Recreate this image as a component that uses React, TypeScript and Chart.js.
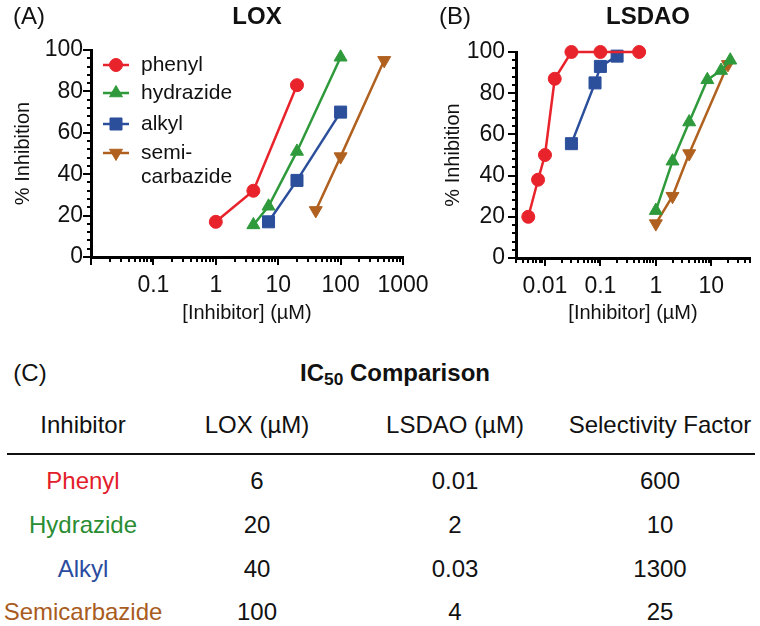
import React, { useEffect, useRef } from 'react';
import { Chart, registerables } from 'chart.js';
import { drawPoint } from 'chart.js/helpers';

Chart.register(...registerables);

const FONT = '"Liberation Sans", Arial, Helvetica, sans-serif';

// ---------- Data: panel A (LOX) ----------
const loxPhenylX = [1, 4, 20];
const loxPhenylY = [17, 32, 83];
const loxHydrazideX = [4, 7, 20, 100];
const loxHydrazideY = [15.5, 24.5, 51, 96.5];
const loxAlkylX = [7, 20, 100];
const loxAlkylY = [17, 37, 70];
const loxSemiX = [40, 100, 500];
const loxSemiY = [22.5, 48.5, 95];

// ---------- Data: panel B (LSDAO) ----------
const lsdaoPhenylX = [0.005, 0.0075, 0.01, 0.015, 0.03, 0.1, 0.5];
const lsdaoPhenylY = [20, 38, 50, 87, 100, 100, 100];
const lsdaoHydrazideX = [1, 2, 4, 8.5, 15, 22];
const lsdaoHydrazideY = [23, 47, 66, 86.5, 91, 96];
const lsdaoAlkylX = [0.03, 0.08, 0.1, 0.2];
const lsdaoAlkylY = [55.5, 85, 93, 98];
const lsdaoSemiX = [1, 2, 4, 20];
const lsdaoSemiY = [16.7, 30, 50.7, 94];

// ---------- Series meta ----------
const seriesLegend = ['phenyl', 'hydrazide', 'alkyl', 'semi-\ncarbazide'];
const seriesColors = ['#e8232b', '#2f9a3b', '#2c4f9c', '#b0611f'];
const seriesStyles = ['circle', 'triangle', 'rect', 'triangle'];
const seriesRotation = [0, 0, 0, 180];
const seriesRadius = [6.5, 7.5, 8.5, 7.5];

// ---------- Axis ----------
const yMin = 0;
const yMax = 100;
const yLabelStep = 20;
const yMinorStep = 4;
const loxXMin = 0.01;
const loxXMax = 1000;
const loxFirstLabel = 0.1;
const lsdaoXMin = 0.003;
const lsdaoXMax = 50;
const lsdaoFirstLabel = 0.01;

// ---------- Table ----------
const tableTitle = 'IC';
const tableTitleSub = '50';
const tableTitleRest = ' Comparison';
const tableHeaders = ['Inhibitor', 'LOX (\u00b5M)', 'LSDAO (\u00b5M)', 'Selectivity Factor'];
const tableInhibitors = ['Phenyl', 'Hydrazide', 'Alkyl', 'Semicarbazide'];
const tableLox = ['6', '20', '40', '100'];
const tableLsdao = ['0.01', '2', '0.03', '4'];
const tableSelectivity = ['600', '10', '1300', '25'];
const tableInhibitorColors = ['#e3202a', '#2a8d33', '#2b4c9e', '#a85c1e'];

const zip = (xs: number[], ys: number[]) => xs.map((x, i) => ({ x, y: ys[i] }));

function makeDatasets(sets: { x: number[]; y: number[] }[]) {
  return sets.map((s, i) => ({
    label: seriesLegend[i].replace('\n', ''),
    data: zip(s.x, s.y),
    borderColor: seriesColors[i],
    backgroundColor: seriesColors[i],
    pointBackgroundColor: seriesColors[i],
    pointBorderColor: seriesColors[i],
    pointStyle: seriesStyles[i],
    pointRotation: seriesRotation[i],
    pointRadius: seriesRadius[i],
    pointBorderWidth: 1,
    borderWidth: 2.5,
    tension: 0,
    clip: false as any,
  }));
}

function isPow10(v: number) {
  const lg = Math.log10(v);
  return Math.abs(lg - Math.round(lg)) < 1e-6;
}

const tickMarksPlugin = {
  id: 'tickMarks',
  afterDraw(chart: any) {
    const { ctx, chartArea } = chart;
    const xs = chart.scales.x;
    const ys = chart.scales.y;
    ctx.save();
    ctx.strokeStyle = '#000';
    ctx.lineWidth = 2;
    xs.ticks.forEach((t: any) => {
      const px = Math.round(xs.getPixelForValue(t.value));
      const len = isPow10(t.value) ? 8 : 5;
      ctx.beginPath();
      ctx.moveTo(px, chartArea.bottom);
      ctx.lineTo(px, chartArea.bottom + len);
      ctx.stroke();
    });
    ys.ticks.forEach((t: any) => {
      const py = Math.round(ys.getPixelForValue(t.value));
      const len = t.value % yLabelStep === 0 ? 8 : 4;
      ctx.beginPath();
      ctx.moveTo(chartArea.left, py);
      ctx.lineTo(chartArea.left - len, py);
      ctx.stroke();
    });
    ctx.restore();
  },
};

const insetLegendPlugin = {
  id: 'insetLegend',
  afterDatasetsDraw(chart: any, _args: any, opts: any) {
    if (!opts || !opts.show) return;
    const { ctx, chartArea } = chart;
    const rowOffsets = [15, 43, 74, 103];
    const lineX0 = chartArea.left + 12;
    const lineX1 = chartArea.left + 38;
    const textX = chartArea.left + 50;
    ctx.save();
    ctx.font = `21px ${FONT}`;
    ctx.textBaseline = 'middle';
    ctx.textAlign = 'left';
    seriesLegend.forEach((lab, i) => {
      const y = chartArea.top + rowOffsets[i];
      ctx.strokeStyle = seriesColors[i];
      ctx.fillStyle = seriesColors[i];
      ctx.lineWidth = 2.5;
      ctx.beginPath();
      ctx.moveTo(lineX0, y);
      ctx.lineTo(lineX1, y);
      ctx.stroke();
      ctx.lineWidth = 1;
      drawPoint(ctx, { pointStyle: seriesStyles[i], rotation: seriesRotation[i], radius: seriesRadius[i], borderWidth: 1 } as any, (lineX0 + lineX1) / 2, y);
      ctx.fillStyle = '#111';
      lab.split('\n').forEach((line, k) => ctx.fillText(line, textX, y + k * 24));
    });
    ctx.restore();
  },
};

function logLabel(firstLabel: number) {
  return (v: any) => {
    const n = Number(v);
    if (!isPow10(n) || n < firstLabel * 0.999) return '';
    const e = Math.round(Math.log10(n));
    return e < 0 ? Math.pow(10, e).toFixed(-e) : String(Math.pow(10, e));
  };
}

function makeConfig(opts: {
  sets: { x: number[]; y: number[] }[];
  xMin: number;
  xMax: number;
  firstLabel: number;
  yWidth: number;
  xHeight: number;
  padding: any;
  yTitlePad: number;
  yTickPad: number;
  legend: boolean;
}): any {
  return {
    type: 'line',
    data: { datasets: makeDatasets(opts.sets) },
    plugins: [tickMarksPlugin, insetLegendPlugin],
    options: {
      responsive: false,
      animation: false,
      layout: { padding: opts.padding },
      plugins: {
        legend: { display: false },
        tooltip: { enabled: false },
        insetLegend: { show: opts.legend },
      },
      scales: {
        x: {
          type: 'logarithmic',
          position: 'bottom',
          min: opts.xMin,
          max: opts.xMax,
          afterBuildTicks: (scale: any) => {
            scale.ticks = scale.ticks.filter((t: any) => {
              const m = t.value / Math.pow(10, Math.floor(Math.log10(t.value) + 1e-9));
              return Math.abs(m - Math.round(m)) < 1e-6;
            });
          },
          afterFit: (scale: any) => {
            scale.height = opts.xHeight;
          },
          grid: { display: false, drawTicks: true, tickLength: 8 },
          border: { display: true, color: '#000', width: 3 },
          ticks: {
            autoSkip: false,
            maxRotation: 0,
            minRotation: 0,
            padding: 7,
            color: '#111',
            font: { family: FONT, size: 23 },
            callback: logLabel(opts.firstLabel),
          },
          title: {
            display: true,
            text: '[Inhibitor] (\u00b5M)',
            color: '#111',
            font: { family: FONT, size: 20 },
            padding: { top: 0, bottom: 5 },
          },
        },
        y: {
          type: 'linear',
          min: yMin,
          max: yMax,
          afterFit: (scale: any) => {
            scale.width = opts.yWidth;
          },
          grid: { display: false, drawTicks: true, tickLength: 8 },
          border: { display: true, color: '#000', width: 3 },
          ticks: {
            stepSize: yMinorStep,
            autoSkip: false,
            padding: opts.yTickPad,
            color: '#111',
            font: { family: FONT, size: 23 },
            callback: (v: any) => (Number(v) % yLabelStep === 0 ? String(v) : ''),
          },
          title: {
            display: true,
            text: '% Inhibition',
            color: '#111',
            font: { family: FONT, size: 20 },
            padding: { top: opts.yTitlePad, bottom: 0 },
          },
        },
      },
    },
  };
}

const Label = ({ x, y, children, style }: any) => (
  <div
    style={{
      position: 'absolute',
      left: x,
      top: y,
      transform: 'translate(-50%, -50%)',
      whiteSpace: 'nowrap',
      lineHeight: 1,
      ...style,
    }}
  >
    {children}
  </div>
);

export default function App() {
  const refA = useRef<HTMLCanvasElement>(null);
  const refB = useRef<HTMLCanvasElement>(null);

  useEffect(() => {
    const a = new Chart(
      refA.current as HTMLCanvasElement,
      makeConfig({
        sets: [
          { x: loxPhenylX, y: loxPhenylY },
          { x: loxHydrazideX, y: loxHydrazideY },
          { x: loxAlkylX, y: loxAlkylY },
          { x: loxSemiX, y: loxSemiY },
        ],
        xMin: loxXMin,
        xMax: loxXMax,
        firstLabel: loxFirstLabel,
        yWidth: 91,
        xHeight: 73,
        padding: { top: 50, right: 37, left: 0, bottom: 0 },
        yTitlePad: 11,
        yTickPad: 0,
        legend: true,
      })
    );
    const b = new Chart(
      refB.current as HTMLCanvasElement,
      makeConfig({
        sets: [
          { x: lsdaoPhenylX, y: lsdaoPhenylY },
          { x: lsdaoHydrazideX, y: lsdaoHydrazideY },
          { x: lsdaoAlkylX, y: lsdaoAlkylY },
          { x: lsdaoSemiX, y: lsdaoSemiY },
        ],
        xMin: lsdaoXMin,
        xMax: lsdaoXMax,
        firstLabel: lsdaoFirstLabel,
        yWidth: 96,
        xHeight: 72,
        padding: { top: 52, right: 10, left: 0, bottom: 0 },
        yTitlePad: 21,
        yTickPad: 3,
        legend: false,
      })
    );
    return () => {
      a.destroy();
      b.destroy();
    };
  }, []);

  const colX = [83, 257, 455, 660];
  const rowY = [481, 525, 569, 612];
  const cols = [tableInhibitors, tableLox, tableLsdao, tableSelectivity];

  return (
    <div
      style={{
        position: 'absolute',
        left: 0,
        top: 0,
        width: 760,
        height: 626,
        background: '#fff',
        overflow: 'hidden',
        fontFamily: FONT,
        color: '#111',
      }}
    >
      <canvas ref={refA} width={440} height={330} style={{ position: 'absolute', left: 0, top: 0, width: 440, height: 330 }} />
      <canvas ref={refB} width={340} height={330} style={{ position: 'absolute', left: 420, top: 0, width: 340, height: 330 }} />

      <Label x={29} y={16} style={{ fontSize: 24 }}>(A)</Label>
      <Label x={257} y={16} style={{ fontSize: 24, fontWeight: 'bold' }}>LOX</Label>
      <Label x={455} y={16} style={{ fontSize: 24 }}>(B)</Label>
      <Label x={648} y={16} style={{ fontSize: 24, fontWeight: 'bold' }}>LSDAO</Label>

      <Label x={30} y={373} style={{ fontSize: 24 }}>(C)</Label>
      <Label x={395} y={373} style={{ fontSize: 24, fontWeight: 'bold' }}>
        {tableTitle}
        <span style={{ fontSize: '0.72em', position: 'relative', top: '0.25em' }}>{tableTitleSub}</span>
        {tableTitleRest}
      </Label>

      {tableHeaders.map((h, i) => (
        <Label key={'h' + i} x={colX[i]} y={425} style={{ fontSize: 24 }}>
          {h}
        </Label>
      ))}
      <div style={{ position: 'absolute', left: 7, top: 453, width: 748, height: 2, background: '#111' }} />

      {cols.map((col, c) =>
        col.map((txt, r) => (
          <Label
            key={c + '-' + r}
            x={colX[c]}
            y={rowY[r]}
            style={{ fontSize: 24, color: c === 0 ? tableInhibitorColors[r] : '#111' }}
          >
            {txt}
          </Label>
        ))
      )}
    </div>
  );
}
